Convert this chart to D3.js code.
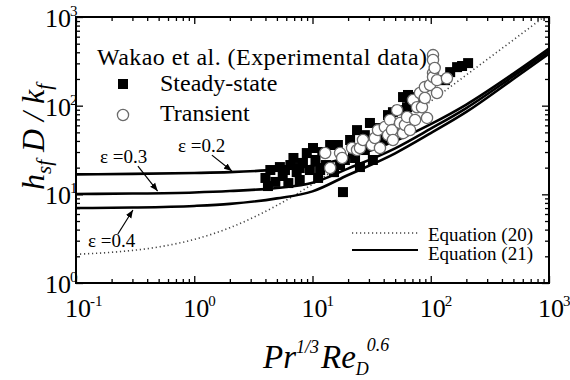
<!DOCTYPE html>
<html>
<head>
<meta charset="utf-8">
<script src="https://cdn.jsdelivr.net/npm/d3@7"></script>
<style>
  body { margin: 0; background: #fff; }
</style>
</head>
<body>
<div id="chart"></div>
<script>
// ─── Daten ────────────────────────────────────────────────────────────────────

// Wakao et al., steady-state (x = Pr^1/3 Re^0.6, y = Nu)
const steadyX = [4.0, 4.2, 4.4, 4.85, 5.3, 5.6, 5.85, 6.25, 6.5, 6.9, 7.35, 7.8, 7.8, 8.3, 8.95, 9.5,
                 10.1, 10.6, 11.15, 11.6, 12.1, 13.0, 14.1, 15.2, 16.4, 17.1, 18.1, 18.8, 20.8, 22.0,
                 22.9, 23.8, 25.2, 27.7, 27.7, 30.6, 32.4, 35.8, 37.2, 39.4, 43.5, 47.9, 49.7, 52.9,
                 58.3, 63, 64.2, 66.8, 76.5, 132, 146, 167, 184, 207];
const steadyY = [15.3, 12.4, 18.8, 13.8, 20.3, 16.1, 18.8, 13.4, 21.4, 25.7, 17.8, 14.5, 19.8, 22.6, 29.2, 18.8,
                 33.3, 24.4, 15.3, 18.8, 30, 21.4, 36, 17.8, 36, 21.4, 10.6, 24.4, 41, 31.6,
                 25.7, 53, 20.3, 46.5, 31.6, 63.8, 24.4, 55.9, 46.6, 41, 78.3, 84.4, 60.5, 89,
                 125, 96, 132, 107, 125, 194, 239, 272, 280, 302];

// Wakao et al., transient
const transX = [12.8, 14.1, 17.1, 17.8, 21.6, 23.8, 25.2, 26.7, 31.8, 33.7, 35.8, 37.2, 40.9, 43.5, 45.2,
                47, 47.9, 51.9, 55, 58.3, 60.5, 63, 66.8, 70.8, 73.7, 76.5, 81.1, 84.3, 89.2, 89.2,
                93, 98.6, 104.5, 104.5, 104.5, 104.5, 108, 113, 113, 137];
const transY = [29.2, 19.8, 29.2, 25.7, 33.3, 31.6, 33.3, 41, 36, 43.2, 53, 33.3, 57.5, 46.6, 69,
                53, 41, 89, 63.8, 49, 60.5, 74.6, 53, 116, 69, 96, 139, 96, 162, 122,
                72.7, 171, 372, 327, 233, 210, 266, 139, 194, 204];

// Equation (21), drei Porositäten
const curveX = [0.1, 0.3, 1, 2, 5, 10, 20, 50, 100, 200, 500, 1000];
const eps02  = [16.8, 17.0, 17.4, 17.8, 19.0, 21.0, 26.0, 40.0, 62.0, 103, 230, 440];
const eps03  = [10.1, 10.2, 10.5, 10.9, 11.8, 13.5, 19.5, 33.0, 55.0, 94, 215, 410];
const eps04  = [7.0, 7.1, 7.4, 7.8, 9.0, 10.8, 16.5, 29.0, 49.0, 85, 200, 385];

// Equation (20)
const eq20X = [0.1, 0.2, 0.5, 1, 2, 5, 10, 20, 50, 100, 200, 500, 907];
const eq20Y = [2.11, 2.22, 2.55, 3.1, 4.2, 7.5, 13, 24, 57, 112, 222, 552, 1000];

const xTickVals = [0.1, 1, 10, 100, 1000];
const xTickExp  = ['-1', '0', '1', '2', '3'];
const yTickVals = [1, 10, 100, 1000];
const yTickExp  = ['0', '1', '2', '3'];

// ε-Beschriftungen: Text, Pfeilanfang, Pfeilspitze (Datenkoordinaten)
const epsLabels = ['ε =0.2', 'ε =0.3', 'ε =0.4'];
const epsTail   = [[1.41, 27.7], [0.334, 20.8], [0.226, 3.57]];
const epsTip    = [[2.08, 18.3], [0.49, 10.9], [0.303, 6.65]];

// ─── Aufbau ───────────────────────────────────────────────────────────────────

const W = 570, H = 380;
const margin = { top: 17, right: 21, bottom: 97, left: 76 };
const serif = "'Liberation Serif', 'Times New Roman', Times, Tinos, 'Nimbus Roman', 'Noto Serif', 'DejaVu Serif', serif";

const svg = d3.select('#chart').append('svg')
  .attr('width', W).attr('height', H)
  .style('font-family', serif);

const x = d3.scaleLog().domain([0.1, 1000]).range([margin.left, W - margin.right]);
const y = d3.scaleLog().domain([1, 1000]).range([H - margin.bottom, margin.top]);

const x0 = margin.left, x1 = W - margin.right;
const y0 = H - margin.bottom, y1 = margin.top;

svg.append('defs').append('clipPath').attr('id', 'clip')
  .append('rect').attr('x', x0).attr('y', y1).attr('width', x1 - x0).attr('height', y0 - y1);

svg.select('defs').append('marker')
  .attr('id', 'arrow').attr('viewBox', '0 0 10 10')
  .attr('refX', 10).attr('refY', 5)
  .attr('markerWidth', 8).attr('markerHeight', 8)
  .attr('markerUnits', 'userSpaceOnUse')
  .attr('orient', 'auto')
  .append('path').attr('d', 'M0,1 L10,5 L0,9 Z').attr('fill', '#000');

// Ticks (nach innen, alle vier Seiten)
const xMinor = x.ticks().filter(v => !xTickVals.some(t => Math.abs(t - v) < 1e-9));
const yMinor = y.ticks().filter(v => !yTickVals.some(t => Math.abs(t - v) < 1e-9));

function tickGroup(axis, tx, ty) {
  svg.append('g')
    .attr('transform', `translate(${tx},${ty})`)
    .call(axis)
    .call(g => g.select('.domain').remove())
    .call(g => g.selectAll('line').attr('stroke', '#000').attr('stroke-width', 1.3));
}
tickGroup(d3.axisBottom(x).tickValues(xTickVals).tickSize(-7).tickFormat(''), 0, y0);
tickGroup(d3.axisBottom(x).tickValues(xMinor).tickSize(-4).tickFormat(''), 0, y0);
tickGroup(d3.axisTop(x).tickValues(xTickVals).tickSize(-7).tickFormat(''), 0, y1);
tickGroup(d3.axisTop(x).tickValues(xMinor).tickSize(-4).tickFormat(''), 0, y1);
tickGroup(d3.axisLeft(y).tickValues(yTickVals).tickSize(-7).tickFormat(''), x0, 0);
tickGroup(d3.axisLeft(y).tickValues(yMinor).tickSize(-4).tickFormat(''), x0, 0);
tickGroup(d3.axisRight(y).tickValues(yTickVals).tickSize(-7).tickFormat(''), x1, 0);
tickGroup(d3.axisRight(y).tickValues(yMinor).tickSize(-4).tickFormat(''), x1, 0);

// Tick-Beschriftungen 10^n
xTickVals.forEach((v, i) => {
  const t = svg.append('text')
    .style('font-family', serif)
    .attr('x', x(v) - 11).attr('y', y0 + 34)
    .attr('font-size', 26);
  t.append('tspan').text('10');
  t.append('tspan').attr('font-size', 15).attr('dy', -11).attr('dx', -1).text(xTickExp[i]);
});
yTickVals.forEach((v, i) => {
  const t = svg.append('text')
    .style('font-family', serif)
    .attr('x', x0 - 31).attr('y', y(v) + 10)
    .attr('font-size', 26);
  t.append('tspan').text('10');
  t.append('tspan').attr('font-size', 15).attr('dy', -11).attr('dx', -1).text(yTickExp[i]);
});

// ─── Kurven ───────────────────────────────────────────────────────────────────

const line = d3.line()
  .x(d => x(d[0])).y(d => y(d[1]))
  .curve(d3.curveMonotoneX);

const plot = svg.append('g').attr('clip-path', 'url(#clip)');

plot.append('path')
  .datum(eq20X.map((v, i) => [v, eq20Y[i]]))
  .attr('d', line)
  .attr('fill', 'none')
  .attr('stroke', '#444')
  .attr('stroke-width', 1.6)
  .attr('stroke-dasharray', '1.2 2.8');

[eps02, eps03, eps04].forEach(series => {
  plot.append('path')
    .datum(curveX.map((v, i) => [v, series[i]]))
    .attr('d', line)
    .attr('fill', 'none')
    .attr('stroke', '#000')
    .attr('stroke-width', 2.6);
});

// ─── Messpunkte ───────────────────────────────────────────────────────────────

const sq = 10;
plot.selectAll('rect.steady')
  .data(steadyX.map((v, i) => [v, steadyY[i]]))
  .enter().append('rect')
  .attr('class', 'steady')
  .attr('x', d => x(d[0]) - sq / 2)
  .attr('y', d => y(d[1]) - sq / 2)
  .attr('width', sq).attr('height', sq)
  .attr('fill', '#000');

plot.selectAll('circle.trans')
  .data(transX.map((v, i) => [v, transY[i]]))
  .enter().append('circle')
  .attr('class', 'trans')
  .attr('cx', d => x(d[0]))
  .attr('cy', d => y(d[1]))
  .attr('r', 5.6)
  .attr('fill', '#fff')
  .attr('stroke', '#6a6a6a')
  .attr('stroke-width', 1.3);

// Rahmen
svg.append('rect')
  .attr('x', x0).attr('y', y1)
  .attr('width', x1 - x0).attr('height', y0 - y1)
  .attr('fill', 'none').attr('stroke', '#000').attr('stroke-width', 2);

// ─── ε-Pfeile ─────────────────────────────────────────────────────────────────

const epsTextPos = [[178, 152], [100, 163], [88, 247]];
epsLabels.forEach((lab, i) => {
  svg.append('text')
    .style('font-family', serif)
    .attr('x', epsTextPos[i][0]).attr('y', epsTextPos[i][1])
    .attr('font-size', 19)
    .text(lab);
  svg.append('line')
    .attr('x1', x(epsTail[i][0])).attr('y1', y(epsTail[i][1]))
    .attr('x2', x(epsTip[i][0])).attr('y2', y(epsTip[i][1]))
    .attr('stroke', '#000').attr('stroke-width', 1.2)
    .attr('marker-end', 'url(#arrow)');
});

// ─── Legenden ─────────────────────────────────────────────────────────────────

const legText = (tx, ty, size, s) => svg.append('text')
  .style('font-family', serif)
  .attr('x', tx).attr('y', ty).attr('font-size', size).text(s);

legText(97, 65, 24, 'Wakao et al. (Experimental data)')
  .attr('textLength', 330).attr('lengthAdjust', 'spacing');
svg.append('rect').attr('x', 118).attr('y', 79).attr('width', 10).attr('height', 10).attr('fill', '#000');
legText(160, 91, 24, 'Steady-state');
svg.append('circle').attr('cx', 123).attr('cy', 115).attr('r', 5.6)
  .attr('fill', '#fff').attr('stroke', '#6a6a6a').attr('stroke-width', 1.3);
legText(160, 121, 24, 'Transient');

svg.append('line').attr('x1', 352).attr('x2', 418).attr('y1', 233).attr('y2', 233)
  .attr('stroke', '#444').attr('stroke-width', 1.6).attr('stroke-dasharray', '1.2 2.8');
svg.append('line').attr('x1', 352).attr('x2', 418).attr('y1', 250).attr('y2', 250)
  .attr('stroke', '#000').attr('stroke-width', 2.2);
legText(428, 241, 19, 'Equation (20)');
legText(428, 260, 19, 'Equation (21)');

// ─── Achsentitel ──────────────────────────────────────────────────────────────

const xt = svg.append('text')
  .style('font-family', serif)
  .attr('x', 263).attr('y', 368)
  .attr('font-size', 33).attr('font-style', 'italic');
xt.append('tspan').text('Pr');
xt.append('tspan').attr('font-size', 18).attr('dy', -15).text('1/3');
xt.append('tspan').attr('dy', 15).attr('dx', 2).text('Re');
xt.append('tspan').attr('font-size', 18).attr('dy', 7).text('D');
xt.append('tspan').attr('font-size', 18).attr('dy', -24).attr('dx', -2).text('0.6');

const yt = svg.append('text')
  .style('font-family', serif)
  .attr('transform', 'translate(44,190) rotate(-90)')
  .attr('font-size', 32).attr('font-style', 'italic');
yt.append('tspan').text('h');
yt.append('tspan').attr('font-size', 21).attr('dy', 7).text('sf');
yt.append('tspan').attr('dy', -7).text(' D / k');
yt.append('tspan').attr('font-size', 21).attr('dy', 7).text('f');
</script>
</body>
</html>
